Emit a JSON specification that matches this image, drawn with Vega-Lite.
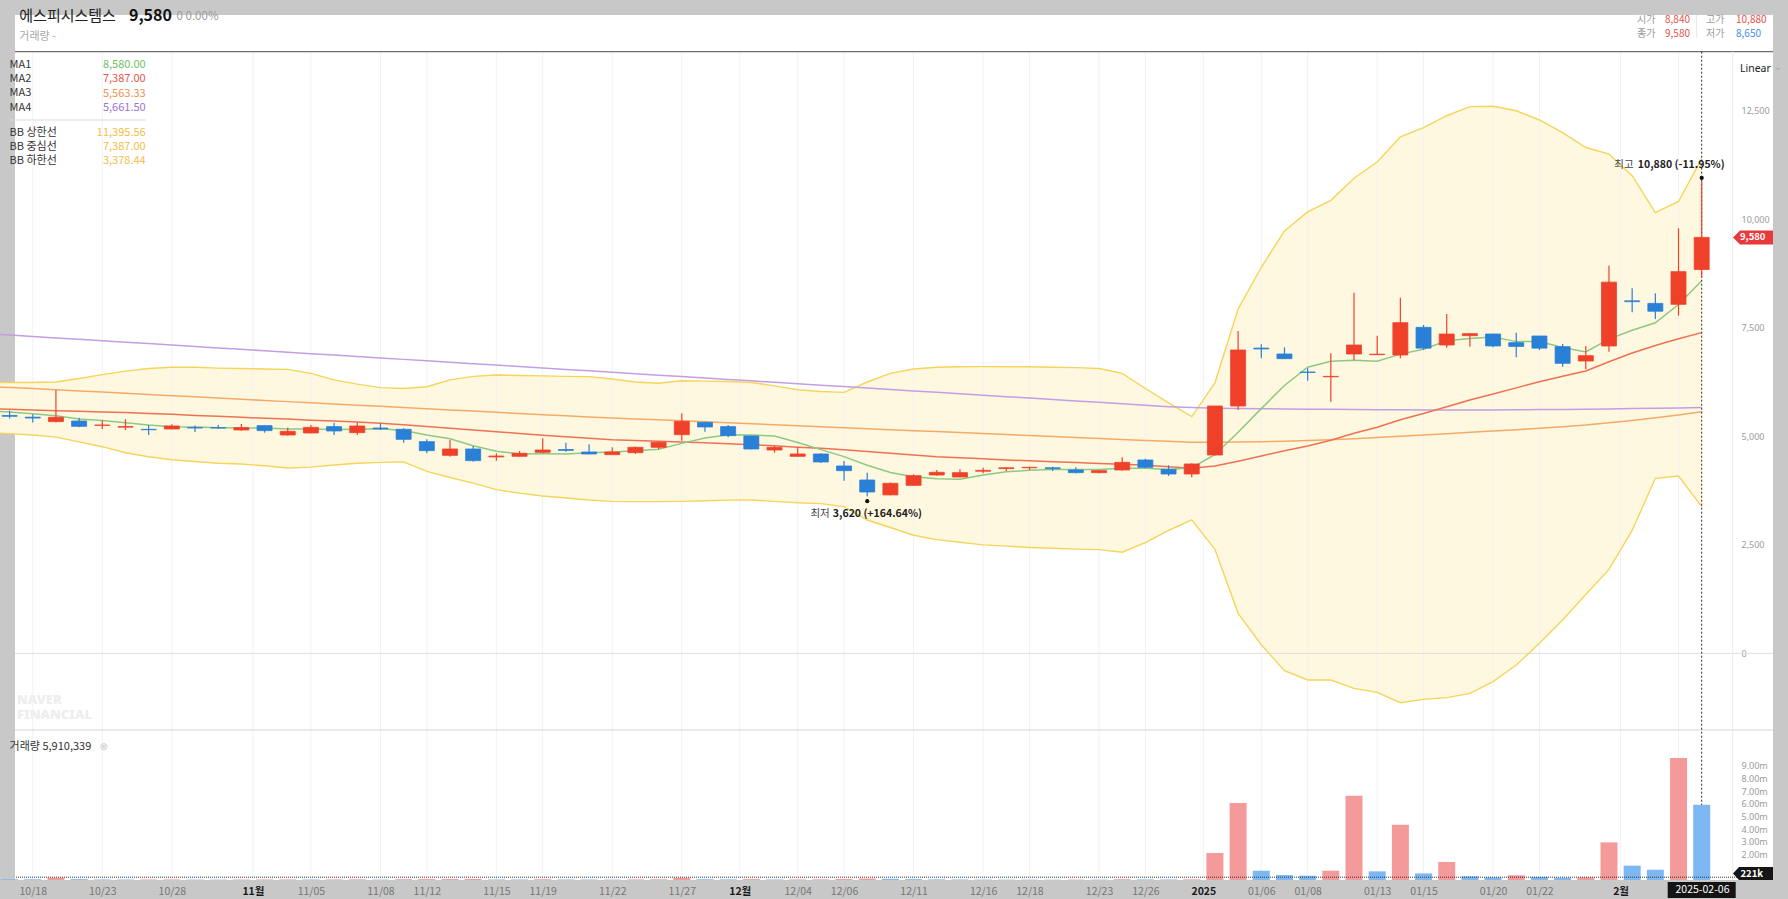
{
  "$schema": "https://vega.github.io/schema/vega-lite/v6.json",
  "width": 1758,
  "height": 865,
  "autosize": {"type": "none"},
  "padding": {"left": 15, "top": 15, "right": 15, "bottom": 19},
  "background": "#c8c8c8",
  "config": {
    "view": {"fill": "#ffffff", "stroke": null},
    "font": "Noto Sans CJK KR",
    "text": {"font": "Noto Sans CJK KR"}
  },
  "datasets": {
    "d": [
      {"date":"2024-10-16","open":5500,"high":5560,"low":5450,"close":5480,"vol":80000,"ma1":5580,"ma2":5635,"ma3":6150,"ma4":7365,"bbu":6240,"bbl":5080},
      {"date":"2024-10-17","open":5480,"high":5590,"low":5410,"close":5460,"vol":60000,"ma1":5560,"ma2":5620,"ma3":6125,"ma4":7332,"bbu":6240,"bbl":5060},
      {"date":"2024-10-18","open":5440,"high":5510,"low":5320,"close":5420,"vol":55000,"ma1":5520,"ma2":5605,"ma3":6098,"ma4":7299,"bbu":6240,"bbl":5030},
      {"date":"2024-10-21","open":5337,"high":6066,"low":5321,"close":5437,"vol":180000,"ma1":5470,"ma2":5590,"ma3":6071,"ma4":7266,"bbu":6250,"bbl":4980},
      {"date":"2024-10-22","open":5352,"high":5429,"low":5206,"close":5229,"vol":70000,"ma1":5400,"ma2":5575,"ma3":6044,"ma4":7233,"bbu":6330,"bbl":4870},
      {"date":"2024-10-23","open":5250,"high":5370,"low":5168,"close":5260,"vol":40000,"ma1":5361,"ma2":5560,"ma3":6017,"ma4":7200,"bbu":6420,"bbl":4760},
      {"date":"2024-10-24","open":5210,"high":5390,"low":5145,"close":5225,"vol":35000,"ma1":5313,"ma2":5545,"ma3":5990,"ma4":7167,"bbu":6500,"bbl":4620},
      {"date":"2024-10-25","open":5160,"high":5260,"low":5030,"close":5150,"vol":38000,"ma1":5259,"ma2":5525,"ma3":5962,"ma4":7134,"bbu":6560,"bbl":4530},
      {"date":"2024-10-28","open":5168,"high":5275,"low":5160,"close":5237,"vol":45000,"ma1":5219,"ma2":5505,"ma3":5935,"ma4":7101,"bbu":6590,"bbl":4460},
      {"date":"2024-10-29","open":5200,"high":5250,"low":5100,"close":5190,"vol":30000,"ma1":5211,"ma2":5480,"ma3":5908,"ma4":7068,"bbu":6590,"bbl":4420},
      {"date":"2024-10-30","open":5200,"high":5260,"low":5175,"close":5190,"vol":28000,"ma1":5197,"ma2":5460,"ma3":5880,"ma4":7035,"bbu":6570,"bbl":4380},
      {"date":"2024-10-31","open":5145,"high":5283,"low":5130,"close":5199,"vol":35000,"ma1":5193,"ma2":5437,"ma3":5853,"ma4":7002,"bbu":6560,"bbl":4360},
      {"date":"2024-11-01","open":5245,"high":5245,"low":5084,"close":5130,"vol":40000,"ma1":5189,"ma2":5415,"ma3":5826,"ma4":6969,"bbu":6550,"bbl":4320},
      {"date":"2024-11-04","open":5030,"high":5199,"low":5014,"close":5114,"vol":42000,"ma1":5165,"ma2":5395,"ma3":5798,"ma4":6936,"bbu":6540,"bbl":4270},
      {"date":"2024-11-05","open":5076,"high":5260,"low":5068,"close":5206,"vol":38000,"ma1":5168,"ma2":5370,"ma3":5771,"ma4":6903,"bbu":6450,"bbl":4290},
      {"date":"2024-11-06","open":5222,"high":5314,"low":5030,"close":5122,"vol":45000,"ma1":5154,"ma2":5350,"ma3":5744,"ma4":6870,"bbu":6300,"bbl":4340},
      {"date":"2024-11-07","open":5083,"high":5321,"low":5030,"close":5237,"vol":50000,"ma1":5162,"ma2":5329,"ma3":5716,"ma4":6837,"bbu":6200,"bbl":4380},
      {"date":"2024-11-08","open":5190,"high":5298,"low":5145,"close":5170,"vol":30000,"ma1":5171,"ma2":5300,"ma3":5689,"ma4":6804,"bbu":6120,"bbl":4400},
      {"date":"2024-11-11","open":5160,"high":5183,"low":4853,"close":4930,"vol":60000,"ma1":5134,"ma2":5265,"ma3":5662,"ma4":6771,"bbu":6100,"bbl":4410},
      {"date":"2024-11-12","open":4876,"high":4930,"low":4608,"close":4669,"vol":70000,"ma1":5027,"ma2":5225,"ma3":5634,"ma4":6738,"bbu":6140,"bbl":4190},
      {"date":"2024-11-13","open":4561,"high":4915,"low":4531,"close":4707,"vol":75000,"ma1":4944,"ma2":5185,"ma3":5607,"ma4":6705,"bbu":6300,"bbl":4050},
      {"date":"2024-11-14","open":4707,"high":4776,"low":4416,"close":4439,"vol":80000,"ma1":4784,"ma2":5145,"ma3":5580,"ma4":6672,"bbu":6380,"bbl":3920},
      {"date":"2024-11-15","open":4525,"high":4608,"low":4439,"close":4545,"vol":40000,"ma1":4657,"ma2":5105,"ma3":5552,"ma4":6639,"bbu":6410,"bbl":3770},
      {"date":"2024-11-18","open":4538,"high":4661,"low":4531,"close":4608,"vol":38000,"ma1":4593,"ma2":5065,"ma3":5525,"ma4":6606,"bbu":6400,"bbl":3690},
      {"date":"2024-11-19","open":4630,"high":4953,"low":4608,"close":4684,"vol":60000,"ma1":4596,"ma2":5025,"ma3":5498,"ma4":6573,"bbu":6390,"bbl":3625},
      {"date":"2024-11-20","open":4695,"high":4853,"low":4646,"close":4675,"vol":40000,"ma1":4590,"ma2":4990,"ma3":5470,"ma4":6540,"bbu":6380,"bbl":3580},
      {"date":"2024-11-21","open":4638,"high":4815,"low":4585,"close":4592,"vol":35000,"ma1":4621,"ma2":4953,"ma3":5446,"ma4":6507,"bbu":6373,"bbl":3533},
      {"date":"2024-11-22","open":4577,"high":4746,"low":4569,"close":4638,"vol":30000,"ma1":4640,"ma2":4920,"ma3":5423,"ma4":6474,"bbu":6320,"bbl":3500},
      {"date":"2024-11-25","open":4623,"high":4760,"low":4592,"close":4746,"vol":45000,"ma1":4668,"ma2":4900,"ma3":5400,"ma4":6441,"bbu":6250,"bbl":3494},
      {"date":"2024-11-26","open":4746,"high":4876,"low":4700,"close":4861,"vol":55000,"ma1":4703,"ma2":4885,"ma3":5378,"ma4":6408,"bbu":6220,"bbl":3494},
      {"date":"2024-11-27","open":5037,"high":5529,"low":4899,"close":5344,"vol":170000,"ma1":4836,"ma2":4870,"ma3":5355,"ma4":6375,"bbu":6280,"bbl":3500},
      {"date":"2024-11-28","open":5321,"high":5330,"low":5106,"close":5214,"vol":60000,"ma1":4961,"ma2":4853,"ma3":5333,"ma4":6342,"bbu":6270,"bbl":3515},
      {"date":"2024-11-29","open":5222,"high":5260,"low":4976,"close":5014,"vol":50000,"ma1":5036,"ma2":4830,"ma3":5310,"ma4":6309,"bbu":6260,"bbl":3530},
      {"date":"2024-12-02","open":5007,"high":5010,"low":4700,"close":4707,"vol":70000,"ma1":5028,"ma2":4805,"ma3":5288,"ma4":6276,"bbu":6240,"bbl":3533},
      {"date":"2024-12-03","open":4684,"high":4776,"low":4623,"close":4746,"vol":40000,"ma1":5005,"ma2":4780,"ma3":5265,"ma4":6243,"bbu":6160,"bbl":3500},
      {"date":"2024-12-04","open":4538,"high":4746,"low":4531,"close":4592,"vol":45000,"ma1":4855,"ma2":4750,"ma3":5243,"ma4":6210,"bbu":6070,"bbl":3470},
      {"date":"2024-12-05","open":4592,"high":4607,"low":4385,"close":4408,"vol":50000,"ma1":4693,"ma2":4723,"ma3":5220,"ma4":6177,"bbu":6030,"bbl":3450},
      {"date":"2024-12-06","open":4316,"high":4431,"low":3978,"close":4208,"vol":80000,"ma1":4532,"ma2":4690,"ma3":5198,"ma4":6144,"bbu":6012,"bbl":3379},
      {"date":"2024-12-09","open":3993,"high":4162,"low":3620,"close":3717,"vol":110000,"ma1":4334,"ma2":4650,"ma3":5175,"ma4":6111,"bbu":6250,"bbl":3072},
      {"date":"2024-12-10","open":3650,"high":3932,"low":3640,"close":3916,"vol":90000,"ma1":4168,"ma2":4610,"ma3":5153,"ma4":6078,"bbu":6450,"bbl":2900},
      {"date":"2024-12-11","open":3870,"high":4124,"low":3855,"close":4093,"vol":70000,"ma1":4068,"ma2":4570,"ma3":5130,"ma4":6045,"bbu":6550,"bbl":2720},
      {"date":"2024-12-12","open":4108,"high":4224,"low":4093,"close":4170,"vol":50000,"ma1":4021,"ma2":4531,"ma3":5108,"ma4":6012,"bbu":6590,"bbl":2620},
      {"date":"2024-12-13","open":4062,"high":4239,"low":4055,"close":4162,"vol":40000,"ma1":4012,"ma2":4505,"ma3":5085,"ma4":5979,"bbu":6600,"bbl":2560},
      {"date":"2024-12-16","open":4195,"high":4277,"low":4147,"close":4215,"vol":30000,"ma1":4110,"ma2":4480,"ma3":5063,"ma4":5946,"bbu":6603,"bbl":2500},
      {"date":"2024-12-17","open":4255,"high":4285,"low":4200,"close":4275,"vol":28000,"ma1":4181,"ma2":4455,"ma3":5040,"ma4":5913,"bbu":6600,"bbl":2470},
      {"date":"2024-12-18","open":4275,"high":4300,"low":4223,"close":4285,"vol":25000,"ma1":4218,"ma2":4435,"ma3":5018,"ma4":5880,"bbu":6600,"bbl":2440},
      {"date":"2024-12-19","open":4275,"high":4300,"low":4200,"close":4255,"vol":22000,"ma1":4236,"ma2":4415,"ma3":4995,"ma4":5847,"bbu":6590,"bbl":2420},
      {"date":"2024-12-20","open":4224,"high":4285,"low":4147,"close":4162,"vol":30000,"ma1":4236,"ma2":4395,"ma3":4973,"ma4":5814,"bbu":6580,"bbl":2400},
      {"date":"2024-12-23","open":4162,"high":4224,"low":4147,"close":4208,"vol":28000,"ma1":4236,"ma2":4375,"ma3":4950,"ma4":5781,"bbu":6560,"bbl":2390},
      {"date":"2024-12-24","open":4224,"high":4515,"low":4208,"close":4400,"vol":60000,"ma1":4262,"ma2":4355,"ma3":4928,"ma4":5748,"bbu":6450,"bbl":2330},
      {"date":"2024-12-26","open":4454,"high":4485,"low":4262,"close":4285,"vol":45000,"ma1":4263,"ma2":4335,"ma3":4905,"ma4":5715,"bbu":6100,"bbl":2550},
      {"date":"2024-12-27","open":4239,"high":4331,"low":4085,"close":4131,"vol":40000,"ma1":4237,"ma2":4297,"ma3":4883,"ma4":5682,"bbu":5770,"bbl":2830},
      {"date":"2024-12-30","open":4131,"high":4377,"low":4055,"close":4362,"vol":50000,"ma1":4277,"ma2":4264,"ma3":4860,"ma4":5660,"bbu":5454,"bbl":3074},
      {"date":"2025-01-02","open":4569,"high":5700,"low":4560,"close":5697,"vol":2120000,"ma1":4575,"ma2":4314,"ma3":4862,"ma4":5645,"bbu":6231,"bbl":2397},
      {"date":"2025-01-03","open":5697,"high":7424,"low":5605,"close":6987,"vol":6060000,"ma1":5092,"ma2":4426,"ma3":4868,"ma4":5640,"bbu":7929,"bbl":923},
      {"date":"2025-01-06","open":7030,"high":7117,"low":6795,"close":7010,"vol":730000,"ma1":5637,"ma2":4546,"ma3":4876,"ma4":5635,"bbu":8892,"bbl":200},
      {"date":"2025-01-07","open":6895,"high":7048,"low":6780,"close":6787,"vol":390000,"ma1":6169,"ma2":4665,"ma3":4885,"ma4":5630,"bbu":9728,"bbl":-398},
      {"date":"2025-01-08","open":6480,"high":6565,"low":6281,"close":6470,"vol":340000,"ma1":6590,"ma2":4777,"ma3":4900,"ma4":5625,"bbu":10167,"bbl":-613},
      {"date":"2025-01-09","open":6370,"high":6910,"low":5797,"close":6380,"vol":730000,"ma1":6727,"ma2":4910,"ma3":4920,"ma4":5620,"bbu":10433,"bbl":-613},
      {"date":"2025-01-10","open":6895,"high":8307,"low":6757,"close":7102,"vol":6630000,"ma1":6750,"ma2":5069,"ma3":4943,"ma4":5616,"bbu":10943,"bbl":-805},
      {"date":"2025-01-13","open":6880,"high":7317,"low":6870,"close":6890,"vol":680000,"ma1":6726,"ma2":5209,"ma3":4970,"ma4":5612,"bbu":11315,"bbl":-897},
      {"date":"2025-01-14","open":6872,"high":8192,"low":6795,"close":7616,"vol":4350000,"ma1":6892,"ma2":5381,"ma3":5000,"ma4":5610,"bbu":11897,"bbl":-1135},
      {"date":"2025-01-15","open":7509,"high":7563,"low":6987,"close":7030,"vol":520000,"ma1":7004,"ma2":5524,"ma3":5030,"ma4":5608,"bbu":12106,"bbl":-1058},
      {"date":"2025-01-16","open":7102,"high":7816,"low":7041,"close":7355,"vol":1420000,"ma1":7199,"ma2":5681,"ma3":5060,"ma4":5607,"bbu":12382,"bbl":-1020},
      {"date":"2025-01-17","open":7317,"high":7370,"low":7064,"close":7363,"vol":290000,"ma1":7251,"ma2":5836,"ma3":5090,"ma4":5607,"bbu":12592,"bbl":-920},
      {"date":"2025-01-20","open":7355,"high":7360,"low":7048,"close":7080,"vol":210000,"ma1":7289,"ma2":5975,"ma3":5120,"ma4":5608,"bbu":12600,"bbl":-650},
      {"date":"2025-01-21","open":7156,"high":7386,"low":6818,"close":7070,"vol":370000,"ma1":7180,"ma2":6115,"ma3":5150,"ma4":5610,"bbu":12497,"bbl":-267},
      {"date":"2025-01-22","open":7309,"high":7310,"low":6987,"close":7030,"vol":240000,"ma1":7180,"ma2":6258,"ma3":5185,"ma4":5614,"bbu":12284,"bbl":232},
      {"date":"2025-01-23","open":7064,"high":7125,"low":6603,"close":6680,"vol":180000,"ma1":7045,"ma2":6381,"ma3":5222,"ma4":5618,"bbu":11993,"bbl":769},
      {"date":"2025-01-24","open":6734,"high":7079,"low":6542,"close":6856,"vol":210000,"ma1":6943,"ma2":6504,"ma3":5260,"ma4":5624,"bbu":11650,"bbl":1358},
      {"date":"2025-01-31","open":7079,"high":8929,"low":6948,"close":8550,"vol":2960000,"ma1":7237,"ma2":6717,"ma3":5310,"ma4":5630,"bbu":11500,"bbl":1934},
      {"date":"2025-02-03","open":8120,"high":8407,"low":7854,"close":8100,"vol":1130000,"ma1":7443,"ma2":6916,"ma3":5365,"ma4":5638,"bbu":11000,"bbl":2832},
      {"date":"2025-02-04","open":8060,"high":8292,"low":7701,"close":7880,"vol":810000,"ma1":7613,"ma2":7092,"ma3":5425,"ma4":5646,"bbu":10152,"bbl":4032},
      {"date":"2025-02-05","open":8039,"high":9789,"low":7778,"close":8791,"vol":9600000,"ma1":8035,"ma2":7246,"ma3":5490,"ma4":5653,"bbu":10407,"bbl":4085},
      {"date":"2025-02-06","open":8840,"high":10880,"low":8650,"close":9580,"vol":5910339,"ma1":8580,"ma2":7387,"ma3":5563.33,"ma4":5661.5,"bbu":11395.56,"bbl":3378.44}
    ],
    "grid": [
      {"date":"2024-10-18","m":0},{"date":"2024-10-23","m":0},{"date":"2024-10-28","m":0},{"date":"2024-11-01","m":1},
      {"date":"2024-11-05","m":0},{"date":"2024-11-08","m":0},{"date":"2024-11-12","m":0},{"date":"2024-11-15","m":0},
      {"date":"2024-11-19","m":0},{"date":"2024-11-22","m":0},{"date":"2024-11-27","m":0},{"date":"2024-12-02","m":1},
      {"date":"2024-12-04","m":0},{"date":"2024-12-06","m":0},{"date":"2024-12-11","m":0},{"date":"2024-12-16","m":0},
      {"date":"2024-12-18","m":0},{"date":"2024-12-23","m":0},{"date":"2024-12-26","m":0},{"date":"2025-01-02","m":1},
      {"date":"2025-01-06","m":0},{"date":"2025-01-08","m":0},{"date":"2025-01-13","m":0},{"date":"2025-01-15","m":0},
      {"date":"2025-01-20","m":0},{"date":"2025-01-22","m":0},{"date":"2025-02-03","m":1},{"date":"2025-02-05","m":0}
    ]
  },
  "resolve": {"scale": {"y": "independent"}, "axis": {"x": "independent", "y": "independent"}},
  "layer": [
    {
      "resolve": {"axis": {"x": "independent", "y": "independent"}},
      "layer": [
        {
          "data": {"name": "d"},
          "mark": {"type": "area", "color": "#fff8e0", "opacity": 1},
          "encoding": {
            "x": {"field": "date", "type": "ordinal", "scale": {"type": "point", "range": [-28.6, 1686.7], "padding": 0}, "axis": null},
            "y": {"field": "bbu", "type": "quantitative", "scale": {"domain": [-5219, 14702], "nice": false, "zero": false},
                  "axis": {"orient": "right", "offset": -41, "values": [0, 2500, 5000, 7500, 10000, 12500], "labelExpr": "format(datum.value, ',')", "labelFontSize": 9, "labelColor": "#9b9b9b", "labelPadding": 9, "labelAlign": "left", "labelBaseline": "middle", "domain": false, "ticks": false, "grid": false, "title": null, "labelFont": "Noto Sans"}},
            "y2": {"field": "bbl"}
          }
        },
        {
          "data": {"name": "grid"},
          "transform": [{"filter": "datum.m == 0"}],
          "mark": {"type": "rule", "color": "#f2f2f2", "strokeWidth": 1},
          "encoding": {
            "x": {"field": "date", "type": "ordinal", "axis": null},
            "y": {"datum": 13857, "type": "quantitative", "scale": {"domain": [-5219, 14702], "nice": false, "zero": false}, "axis": null},
            "y2": {"datum": -5219}
          }
        },
        {
          "data": {"name": "grid"},
          "transform": [{"filter": "datum.m == 1"}],
          "mark": {"type": "rule", "color": "#f2f2f2", "strokeWidth": 1, "xOffset": -11.6},
          "encoding": {
            "x": {"field": "date", "type": "ordinal", "axis": null},
            "y": {"datum": 13857, "type": "quantitative", "scale": {"domain": [-5219, 14702], "nice": false, "zero": false}, "axis": null},
            "y2": {"datum": -5219}
          }
        },
        {
          "data": {"values": [{}]},
          "mark": {"type": "rule", "color": "#e0e0e0", "strokeWidth": 1},
          "encoding": {"y": {"datum": 0, "type": "quantitative", "scale": {"domain": [-5219, 14702], "nice": false, "zero": false}, "axis": null}}
        },
        {
          "data": {"values": [{}]},
          "mark": {"type": "rule", "color": "#d6d6d6", "strokeWidth": 1},
          "encoding": {"y": {"datum": -1764, "type": "quantitative", "scale": {"domain": [-5219, 14702], "nice": false, "zero": false}, "axis": null}}
        },
        {
          "data": {"values": [{}]},
          "mark": {"type": "rule", "color": "#6e6e6e", "strokeWidth": 1.2},
          "encoding": {"y": {"datum": 13857, "type": "quantitative", "scale": {"domain": [-5219, 14702], "nice": false, "zero": false}, "axis": null}}
        },
        {
          "data": {"values": [{}]},
          "mark": {"type": "rule", "color": "#ebebeb", "strokeWidth": 1, "xOffset": 31},
          "encoding": {
            "x": {"datum": "2025-02-06", "type": "ordinal", "axis": null},
            "y": {"datum": 13857, "type": "quantitative", "scale": {"domain": [-5219, 14702], "nice": false, "zero": false}, "axis": null},
            "y2": {"datum": -5219}
          }
        },
        {
          "data": {"values": [{}]},
          "mark": {"type": "rule", "color": "#e6e6e6", "strokeWidth": 1, "xOffset": -5},
          "encoding": {
            "x": {"datum": "2025-02-06", "type": "ordinal", "axis": null},
            "y": {"datum": 14702, "type": "quantitative", "scale": {"domain": [-5219, 14702], "nice": false, "zero": false}, "axis": null},
            "y2": {"datum": 14172}
          }
        },
        {
          "data": {"name": "d"},
          "mark": {"type": "line", "color": "#f6d45a", "strokeWidth": 1.4},
          "encoding": {
            "x": {"field": "date", "type": "ordinal", "axis": null},
            "y": {"field": "bbu", "type": "quantitative", "scale": {"domain": [-5219, 14702], "nice": false, "zero": false}, "axis": null}
          }
        },
        {
          "data": {"name": "d"},
          "mark": {"type": "line", "color": "#f6d45a", "strokeWidth": 1.4},
          "encoding": {
            "x": {"field": "date", "type": "ordinal", "axis": null},
            "y": {"field": "bbl", "type": "quantitative", "scale": {"domain": [-5219, 14702], "nice": false, "zero": false}, "axis": null}
          }
        },
        {
          "data": {"name": "d"},
          "mark": {"type": "line", "color": "#c49de4", "strokeWidth": 1.5},
          "encoding": {
            "x": {"field": "date", "type": "ordinal", "axis": null},
            "y": {"field": "ma4", "type": "quantitative", "scale": {"domain": [-5219, 14702], "nice": false, "zero": false}, "axis": null}
          }
        },
        {
          "data": {"name": "d"},
          "mark": {"type": "line", "color": "#f5aa68", "strokeWidth": 1.5},
          "encoding": {
            "x": {"field": "date", "type": "ordinal", "axis": null},
            "y": {"field": "ma3", "type": "quantitative", "scale": {"domain": [-5219, 14702], "nice": false, "zero": false}, "axis": null}
          }
        },
        {
          "data": {"name": "d"},
          "mark": {"type": "line", "color": "#ee7152", "strokeWidth": 1.5},
          "encoding": {
            "x": {"field": "date", "type": "ordinal", "axis": null},
            "y": {"field": "ma2", "type": "quantitative", "scale": {"domain": [-5219, 14702], "nice": false, "zero": false}, "axis": null}
          }
        },
        {
          "data": {"name": "d"},
          "mark": {"type": "line", "color": "#8dc982", "strokeWidth": 1.5},
          "encoding": {
            "x": {"field": "date", "type": "ordinal", "axis": null},
            "y": {"field": "ma1", "type": "quantitative", "scale": {"domain": [-5219, 14702], "nice": false, "zero": false}, "axis": null}
          }
        },
        {
          "data": {"values": [{}]},
          "mark": {"type": "rule", "color": "#2a2a2a", "strokeWidth": 1, "strokeDash": [2, 2]},
          "encoding": {
            "x": {"datum": "2025-02-06", "type": "ordinal", "axis": null},
            "y": {"datum": 13857, "type": "quantitative", "scale": {"domain": [-5219, 14702], "nice": false, "zero": false}, "axis": null},
            "y2": {"datum": -5219}
          }
        },
        {
          "data": {"name": "d"},
          "mark": {"type": "rule", "strokeWidth": 1.2},
          "encoding": {
            "x": {"field": "date", "type": "ordinal", "axis": null},
            "y": {"field": "low", "type": "quantitative", "scale": {"domain": [-5219, 14702], "nice": false, "zero": false}, "axis": null},
            "y2": {"field": "high"},
            "color": {"condition": {"test": "datum.close >= datum.open", "value": "#ef4129"}, "value": "#2a7fd6"}
          }
        },
        {
          "data": {"name": "d"},
          "mark": {"type": "bar", "width": 15, "strokeWidth": 0.8},
          "encoding": {
            "x": {"field": "date", "type": "ordinal", "axis": null},
            "y": {"field": "open", "type": "quantitative", "scale": {"domain": [-5219, 14702], "nice": false, "zero": false}, "axis": null},
            "y2": {"field": "close"},
            "fill": {"condition": {"test": "datum.close >= datum.open", "value": "#ef4129"}, "value": "#2a7fd6"},
            "stroke": {"condition": {"test": "datum.close >= datum.open", "value": "#ef4129"}, "value": "#2a7fd6"}
          }
        },
        {
          "data": {"values": [{}]},
          "mark": {"type": "point", "filled": true, "color": "#111111", "size": 18, "opacity": 1, "yOffset": -3},
          "encoding": {
            "x": {"datum": "2025-02-06", "type": "ordinal", "axis": null},
            "y": {"datum": 10880, "type": "quantitative", "scale": {"domain": [-5219, 14702], "nice": false, "zero": false}, "axis": null}
          }
        },
        {
          "data": {"values": [{}]},
          "mark": {"type": "point", "filled": true, "color": "#111111", "size": 18, "opacity": 1, "yOffset": 5},
          "encoding": {
            "x": {"datum": "2024-12-09", "type": "ordinal", "axis": null},
            "y": {"datum": 3620, "type": "quantitative", "scale": {"domain": [-5219, 14702], "nice": false, "zero": false}, "axis": null}
          }
        },
        {
          "data": {"values": [{}]},
          "mark": {"type": "text", "text": "10,880 (-11.95%)", "align": "right", "baseline": "middle", "dx": 23, "dy": -15.7, "fontSize": 10.5, "fontWeight": "bold", "color": "#222222"},
          "encoding": {
            "x": {"datum": "2025-02-06", "type": "ordinal", "axis": null},
            "y": {"datum": 10880, "type": "quantitative", "scale": {"domain": [-5219, 14702], "nice": false, "zero": false}, "axis": null}
          }
        },
        {
          "data": {"values": [{}]},
          "mark": {"type": "text", "text": "최고", "align": "right", "baseline": "middle", "dx": -68, "dy": -15.7, "fontSize": 10.5, "color": "#444444"},
          "encoding": {
            "x": {"datum": "2025-02-06", "type": "ordinal", "axis": null},
            "y": {"datum": 10880, "type": "quantitative", "scale": {"domain": [-5219, 14702], "nice": false, "zero": false}, "axis": null}
          }
        },
        {
          "data": {"values": [{}]},
          "mark": {"type": "text", "text": "3,620 (+164.64%)", "align": "left", "baseline": "middle", "dx": -34.4, "dy": 17.6, "fontSize": 10.5, "fontWeight": "bold", "color": "#222222"},
          "encoding": {
            "x": {"datum": "2024-12-09", "type": "ordinal", "axis": null},
            "y": {"datum": 3620, "type": "quantitative", "scale": {"domain": [-5219, 14702], "nice": false, "zero": false}, "axis": null}
          }
        },
        {
          "data": {"values": [{}]},
          "mark": {"type": "text", "text": "최저", "align": "right", "baseline": "middle", "dx": -37.5, "dy": 17.6, "fontSize": 10.5, "color": "#444444"},
          "encoding": {
            "x": {"datum": "2024-12-09", "type": "ordinal", "axis": null},
            "y": {"datum": 3620, "type": "quantitative", "scale": {"domain": [-5219, 14702], "nice": false, "zero": false}, "axis": null}
          }
        },
        {
          "data": {"values": [{}]},
          "mark": {"type": "point", "shape": "M-1,0L-0.65,-0.35L1,-0.35L1,0.35L-0.65,0.35Z", "size": 1600, "filled": true, "color": "#e8393c", "opacity": 1, "strokeWidth": 0, "xOffset": 51.3},
          "encoding": {
            "x": {"datum": "2025-02-06", "type": "ordinal", "axis": null},
            "y": {"datum": 9580, "type": "quantitative", "scale": {"domain": [-5219, 14702], "nice": false, "zero": false}, "axis": null}
          }
        },
        {
          "data": {"values": [{}]},
          "mark": {"type": "text", "text": "9,580", "align": "center", "baseline": "middle", "dx": 51, "fontSize": 9.5, "fontWeight": "bold", "color": "#ffffff"},
          "encoding": {
            "x": {"datum": "2025-02-06", "type": "ordinal", "axis": null},
            "y": {"datum": 9580, "type": "quantitative", "scale": {"domain": [-5219, 14702], "nice": false, "zero": false}, "axis": null}
          }
        },
        {
          "data": {"values": [{}]},
          "mark": {"type": "text", "text": "에스피시스템스", "align": "left", "baseline": "middle", "dx": 9.7, "fontSize": 15, "color": "#222222"},
          "encoding": {
            "x": {"datum": "2024-10-17", "type": "ordinal", "axis": null},
            "y": {"datum": 14668, "type": "quantitative", "scale": {"domain": [-5219, 14702], "nice": false, "zero": false}, "axis": null}
          }
        },
        {
          "data": {"values": [{}]},
          "mark": {"type": "text", "text": "9,580", "align": "left", "baseline": "middle", "dx": 119.4, "fontSize": 16, "fontWeight": "bold", "color": "#111111"},
          "encoding": {
            "x": {"datum": "2024-10-17", "type": "ordinal", "axis": null},
            "y": {"datum": 14668, "type": "quantitative", "scale": {"domain": [-5219, 14702], "nice": false, "zero": false}, "axis": null}
          }
        },
        {
          "data": {"values": [{}]},
          "mark": {"type": "text", "text": "0 0.00%", "align": "left", "baseline": "middle", "dx": 167, "fontSize": 11.5, "color": "#9a9a9a"},
          "encoding": {
            "x": {"datum": "2024-10-17", "type": "ordinal", "axis": null},
            "y": {"datum": 14650, "type": "quantitative", "scale": {"domain": [-5219, 14702], "nice": false, "zero": false}, "axis": null}
          }
        },
        {
          "data": {"values": [{}]},
          "mark": {"type": "text", "text": "거래량   -", "align": "left", "baseline": "middle", "dx": 9.7, "fontSize": 11, "color": "#a8a8a8"},
          "encoding": {
            "x": {"datum": "2024-10-17", "type": "ordinal", "axis": null},
            "y": {"datum": 14196, "type": "quantitative", "scale": {"domain": [-5219, 14702], "nice": false, "zero": false}, "axis": null}
          }
        },
        {
          "data": {"values": [{}]},
          "mark": {"type": "text", "text": ["시가", "종가"], "lineHeight": 14.3, "align": "left", "baseline": "alphabetic", "dx": -64.7, "fontSize": 10, "color": "#9a9a9a"},
          "encoding": {
            "x": {"datum": "2025-02-06", "type": "ordinal", "axis": null},
            "y": {"datum": 14520, "type": "quantitative", "scale": {"domain": [-5219, 14702], "nice": false, "zero": false}, "axis": null}
          }
        },
        {
          "data": {"values": [{}]},
          "mark": {"type": "text", "text": ["고가", "저가"], "lineHeight": 14.3, "align": "left", "baseline": "alphabetic", "dx": 4.3, "fontSize": 10, "color": "#9a9a9a"},
          "encoding": {
            "x": {"datum": "2025-02-06", "type": "ordinal", "axis": null},
            "y": {"datum": 14520, "type": "quantitative", "scale": {"domain": [-5219, 14702], "nice": false, "zero": false}, "axis": null}
          }
        },
        {
          "data": {"values": [{}]},
          "mark": {"type": "text", "text": ["8,840", "9,580"], "lineHeight": 14.3, "align": "left", "baseline": "alphabetic", "dx": -36.7, "fontSize": 10, "color": "#e5534b"},
          "encoding": {
            "x": {"datum": "2025-02-06", "type": "ordinal", "axis": null},
            "y": {"datum": 14520, "type": "quantitative", "scale": {"domain": [-5219, 14702], "nice": false, "zero": false}, "axis": null}
          }
        },
        {
          "data": {"values": [{}]},
          "mark": {"type": "text", "text": "10,880", "align": "left", "baseline": "alphabetic", "dx": 34.3, "fontSize": 10, "color": "#e5534b"},
          "encoding": {
            "x": {"datum": "2025-02-06", "type": "ordinal", "axis": null},
            "y": {"datum": 14520, "type": "quantitative", "scale": {"domain": [-5219, 14702], "nice": false, "zero": false}, "axis": null}
          }
        },
        {
          "data": {"values": [{}]},
          "mark": {"type": "text", "text": "8,650", "align": "left", "baseline": "alphabetic", "dx": 34.3, "fontSize": 10, "color": "#4a8ee6"},
          "encoding": {
            "x": {"datum": "2025-02-06", "type": "ordinal", "axis": null},
            "y": {"datum": 14191, "type": "quantitative", "scale": {"domain": [-5219, 14702], "nice": false, "zero": false}, "axis": null}
          }
        },
        {
          "data": {"values": [{}]},
          "mark": {"type": "text", "text": ["MA1", "MA2", "MA3", "MA4"], "lineHeight": 14.1, "align": "left", "baseline": "alphabetic", "dx": 0, "fontSize": 11, "color": "#333333"},
          "encoding": {
            "x": {"datum": "2024-10-17", "type": "ordinal", "axis": null},
            "y": {"datum": 13475, "type": "quantitative", "scale": {"domain": [-5219, 14702], "nice": false, "zero": false}, "axis": null}
          }
        },
        {
          "data": {"values": [{}]},
          "mark": {"type": "text", "text": ["BB 상한선", "BB 중심선", "BB 하한선"], "lineHeight": 13.9, "align": "left", "baseline": "alphabetic", "dx": 0, "fontSize": 11, "color": "#333333"},
          "encoding": {
            "x": {"datum": "2024-10-17", "type": "ordinal", "axis": null},
            "y": {"datum": 11909, "type": "quantitative", "scale": {"domain": [-5219, 14702], "nice": false, "zero": false}, "axis": null}
          }
        },
        {
          "data": {"values": [{}]},
          "mark": {"type": "text", "text": "8,580.00", "align": "right", "baseline": "alphabetic", "dx": 136.1, "fontSize": 11, "color": "#6fbf64"},
          "encoding": {
            "x": {"datum": "2024-10-17", "type": "ordinal", "axis": null},
            "y": {"datum": 13475, "type": "quantitative", "scale": {"domain": [-5219, 14702], "nice": false, "zero": false}, "axis": null}
          }
        },
        {
          "data": {"values": [{}]},
          "mark": {"type": "text", "text": "7,387.00", "align": "right", "baseline": "alphabetic", "dx": 136.1, "fontSize": 11, "color": "#e5574e"},
          "encoding": {
            "x": {"datum": "2024-10-17", "type": "ordinal", "axis": null},
            "y": {"datum": 13150, "type": "quantitative", "scale": {"domain": [-5219, 14702], "nice": false, "zero": false}, "axis": null}
          }
        },
        {
          "data": {"values": [{}]},
          "mark": {"type": "text", "text": "5,563.33", "align": "right", "baseline": "alphabetic", "dx": 136.1, "fontSize": 11, "color": "#ef9350"},
          "encoding": {
            "x": {"datum": "2024-10-17", "type": "ordinal", "axis": null},
            "y": {"datum": 12825, "type": "quantitative", "scale": {"domain": [-5219, 14702], "nice": false, "zero": false}, "axis": null}
          }
        },
        {
          "data": {"values": [{}]},
          "mark": {"type": "text", "text": "5,661.50", "align": "right", "baseline": "alphabetic", "dx": 136.1, "fontSize": 11, "color": "#9d73d4"},
          "encoding": {
            "x": {"datum": "2024-10-17", "type": "ordinal", "axis": null},
            "y": {"datum": 12501, "type": "quantitative", "scale": {"domain": [-5219, 14702], "nice": false, "zero": false}, "axis": null}
          }
        },
        {
          "data": {"values": [{}]},
          "mark": {"type": "text", "text": ["11,395.56", "7,387.00", "3,378.44"], "lineHeight": 13.9, "align": "right", "baseline": "alphabetic", "dx": 136.1, "fontSize": 11, "color": "#f4bd45"},
          "encoding": {
            "x": {"datum": "2024-10-17", "type": "ordinal", "axis": null},
            "y": {"datum": 11909, "type": "quantitative", "scale": {"domain": [-5219, 14702], "nice": false, "zero": false}, "axis": null}
          }
        },
        {
          "data": {"values": [{}]},
          "mark": {"type": "rule", "color": "#dddddd", "strokeWidth": 1, "x2Offset": 43.8},
          "encoding": {
            "x": {"datum": "2024-10-17", "type": "ordinal", "axis": null},
            "x2": {"datum": "2024-10-23"},
            "y": {"datum": 12284, "type": "quantitative", "scale": {"domain": [-5219, 14702], "nice": false, "zero": false}, "axis": null}
          }
        },
        {
          "data": {"values": [{}]},
          "mark": {"type": "text", "text": "Linear", "align": "left", "baseline": "middle", "dx": 38.3, "fontSize": 10.5, "color": "#222222", "font": "Noto Sans"},
          "encoding": {
            "x": {"datum": "2025-02-06", "type": "ordinal", "axis": null},
            "y": {"datum": 13459, "type": "quantitative", "scale": {"domain": [-5219, 14702], "nice": false, "zero": false}, "axis": null}
          }
        },
        {
          "data": {"values": [{}]},
          "mark": {"type": "text", "text": "⌄", "align": "left", "baseline": "middle", "dx": 72, "dy": -2, "fontSize": 10, "color": "#aaaaaa", "font": "DejaVu Sans"},
          "encoding": {
            "x": {"datum": "2025-02-06", "type": "ordinal", "axis": null},
            "y": {"datum": 13459, "type": "quantitative", "scale": {"domain": [-5219, 14702], "nice": false, "zero": false}, "axis": null}
          }
        },
        {
          "data": {"values": [{}]},
          "mark": {"type": "text", "text": ["NAVER", "FINANCIAL"], "lineHeight": 15.5, "align": "left", "baseline": "alphabetic", "dx": 7.4, "fontSize": 13, "fontWeight": 900, "color": "#eeeeee", "font": "Noto Sans"},
          "encoding": {
            "x": {"datum": "2024-10-17", "type": "ordinal", "axis": null},
            "y": {"datum": -1156, "type": "quantitative", "scale": {"domain": [-5219, 14702], "nice": false, "zero": false}, "axis": null}
          }
        }
      ]
    },
    {
      "resolve": {"axis": {"x": "independent", "y": "independent"}},
      "layer": [
        {
          "data": {"name": "d"},
          "transform": [{"window": [{"op": "lag", "field": "vol", "as": "pv"}], "sort": [{"field": "date", "order": "ascending"}]}],
          "mark": {"type": "bar", "width": 17},
          "encoding": {
            "x": {"field": "date", "type": "ordinal", "scale": {"type": "point", "range": [-28.6, 1686.7], "padding": 0},
                  "axis": {
                    "orient": "bottom",
                    "values": ["2024-10-18","2024-10-23","2024-10-28","2024-11-01","2024-11-05","2024-11-08","2024-11-12","2024-11-15","2024-11-19","2024-11-22","2024-11-27","2024-12-02","2024-12-04","2024-12-06","2024-12-11","2024-12-16","2024-12-18","2024-12-23","2024-12-26","2025-01-02","2025-01-06","2025-01-08","2025-01-13","2025-01-15","2025-01-20","2025-01-22","2025-02-03"],
                    "labelExpr": "datum.value == '2024-11-01' ? '11월' : datum.value == '2024-12-02' ? '12월' : datum.value == '2025-01-02' ? '2025' : datum.value == '2025-02-03' ? '2월' : substring(datum.value, 5, 7) + '/' + substring(datum.value, 8, 10)",
                    "labelAngle": 0,
                    "labelAlign": "center",
                    "labelFontSize": 10.5,
                    "labelColor": {"condition": {"test": "datum.value == '2024-11-01' || datum.value == '2024-12-02' || datum.value == '2025-01-02' || datum.value == '2025-02-03'", "value": "#1a1a1a"}, "value": "#767676"},
                    "labelFontWeight": {"condition": {"test": "datum.value == '2024-11-01' || datum.value == '2024-12-02' || datum.value == '2025-01-02' || datum.value == '2025-02-03'", "value": "bold"}, "value": "normal"},
                    "labelOffset": {"condition": {"test": "datum.value == '2024-11-01' || datum.value == '2024-12-02' || datum.value == '2025-01-02' || datum.value == '2025-02-03'", "value": -11.6}, "value": 0},
                    "labelPadding": 6,
                    "labelBaseline": "top",
                    "labelOverlap": false,
                    "labelFlush": false,
                    "domain": false,
                    "ticks": false,
                    "grid": false,
                    "title": null
                  }},
            "y": {"field": "vol", "type": "quantitative", "scale": {"domain": [0, 68036000], "nice": false, "zero": false},
                  "axis": {"orient": "right", "offset": -41, "values": [2000000, 3000000, 4000000, 5000000, 6000000, 7000000, 8000000, 9000000], "labelExpr": "format(datum.value / 1000000, '.2f') + 'm'", "labelFontSize": 9, "labelColor": "#9b9b9b", "labelPadding": 9, "labelAlign": "left", "labelBaseline": "middle", "domain": false, "ticks": false, "grid": false, "title": null, "labelFont": "Noto Sans"}},
            "color": {"condition": {"test": "datum.vol >= datum.pv", "value": "#f49a9a"}, "value": "#7db8f2"}
          }
        },
        {
          "data": {"values": [{}]},
          "mark": {"type": "rule", "color": "#333333", "strokeWidth": 1, "strokeDash": [1, 1]},
          "encoding": {"y": {"datum": 221000, "type": "quantitative", "scale": {"domain": [0, 68036000], "nice": false, "zero": false}, "axis": null}}
        },
        {
          "data": {"values": [{}]},
          "mark": {"type": "point", "shape": "M-1,0L-0.7,-0.325L1,-0.325L1,0.325L-0.7,0.325Z", "size": 1600, "filled": true, "color": "#151515", "opacity": 1, "strokeWidth": 0, "xOffset": 51.3},
          "encoding": {
            "x": {"datum": "2025-02-06", "type": "ordinal", "axis": null},
            "y": {"datum": 511000, "type": "quantitative", "scale": {"domain": [0, 68036000], "nice": false, "zero": false}, "axis": null}
          }
        },
        {
          "data": {"values": [{}]},
          "mark": {"type": "text", "text": "221k", "align": "center", "baseline": "middle", "dx": 50, "fontSize": 9.5, "fontWeight": "bold", "color": "#ffffff"},
          "encoding": {
            "x": {"datum": "2025-02-06", "type": "ordinal", "axis": null},
            "y": {"datum": 511000, "type": "quantitative", "scale": {"domain": [0, 68036000], "nice": false, "zero": false}, "axis": null}
          }
        },
        {
          "data": {"values": [{}]},
          "mark": {"type": "bar", "width": 68, "color": "#141414"},
          "encoding": {
            "x": {"datum": "2025-02-06", "type": "ordinal", "axis": null},
            "y": {"datum": -157000, "type": "quantitative", "scale": {"domain": [0, 68036000], "nice": false, "zero": false}, "axis": null},
            "y2": {"datum": -1416000}
          }
        },
        {
          "data": {"values": [{}]},
          "mark": {"type": "text", "text": "2025-02-06", "align": "center", "baseline": "middle", "dx": 0.8, "fontSize": 10.5, "color": "#ffffff"},
          "encoding": {
            "x": {"datum": "2025-02-06", "type": "ordinal", "axis": null},
            "y": {"datum": -790000, "type": "quantitative", "scale": {"domain": [0, 68036000], "nice": false, "zero": false}, "axis": null}
          }
        },
        {
          "data": {"values": [{}]},
          "mark": {"type": "text", "text": "거래량 5,910,339", "align": "left", "baseline": "middle", "dx": 0, "fontSize": 11, "color": "#333333"},
          "encoding": {
            "x": {"datum": "2024-10-17", "type": "ordinal", "axis": null},
            "y": {"datum": 10460000, "type": "quantitative", "scale": {"domain": [0, 68036000], "nice": false, "zero": false}, "axis": null}
          }
        },
        {
          "data": {"values": [{}]},
          "mark": {"type": "text", "text": "⊗", "align": "left", "baseline": "middle", "dx": 90, "fontSize": 10, "color": "#cccccc", "font": "DejaVu Sans"},
          "encoding": {
            "x": {"datum": "2024-10-17", "type": "ordinal", "axis": null},
            "y": {"datum": 10460000, "type": "quantitative", "scale": {"domain": [0, 68036000], "nice": false, "zero": false}, "axis": null}
          }
        }
      ]
    }
  ]
}
